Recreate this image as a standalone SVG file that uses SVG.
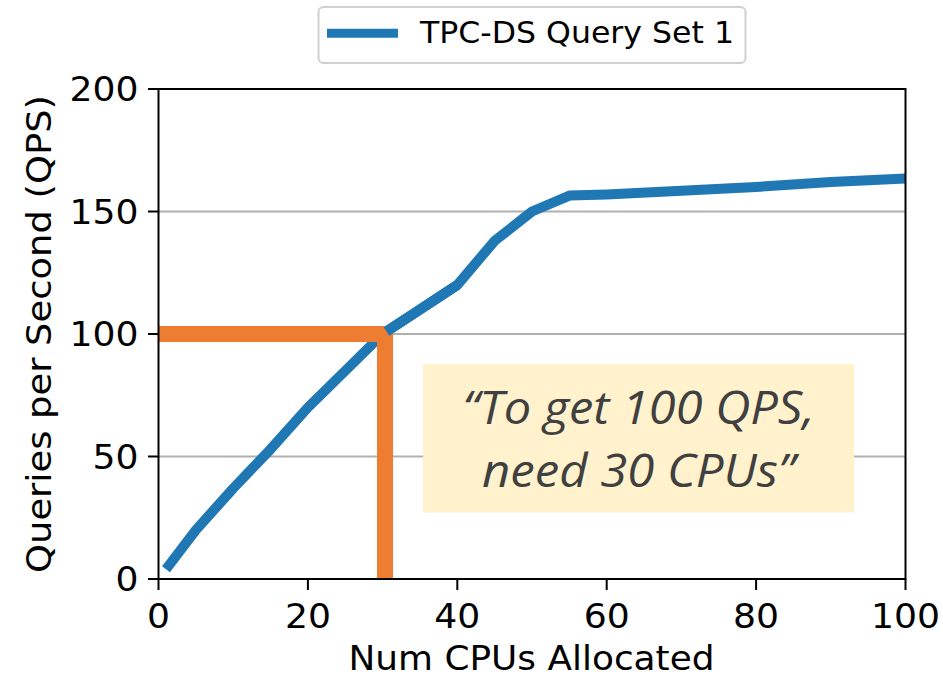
<svg xmlns="http://www.w3.org/2000/svg" width="943" height="678" viewBox="0 0 943 678">
  <style>
    .grid { stroke: #b0b0b0; stroke-width: 2; fill: none; }
    .spine { stroke: #000000; stroke-width: 2; fill: none; }
    .tick { stroke: #000000; stroke-width: 2; }
    .lbl { font-family: "DejaVu Sans", sans-serif; font-size: 34px; fill: #000000; }
    .ytl { text-anchor: end; }
    .xtl { text-anchor: middle; }
    .series { fill: none; stroke: #1f77b4; stroke-width: 10; stroke-linejoin: round; }
    .mark { fill: none; stroke: #ed7d31; stroke-width: 16; stroke-linejoin: miter; }
    .note { font-family: "Open Sans", "Noto Sans", sans-serif; font-style: italic; font-size: 46px; fill: #404040; text-anchor: middle; }
  </style>

  <rect width="943" height="678" fill="#ffffff"/>

  <!-- horizontal grid -->
  <g id="grid">
    <line class="grid" x1="158.5" y1="211.5" x2="905.5" y2="211.5"/>
    <line class="grid" x1="158.5" y1="334" x2="905.5" y2="334"/>
    <line class="grid" x1="158.5" y1="456.5" x2="905.5" y2="456.5"/>
  </g>

  <g id="connectors">
    <!-- QPS curve (lower part, beneath the marker) -->
    <polyline class="series" points="166,569.2 195.9,530 233.2,488.4 270.6,449.2 307.9,407.5 345.3,370.8 382.6,334 420,309.5 457.3,285"/>
    <!-- 100 QPS / 30 CPU marker -->
    <path class="mark" d="M158.5,334 H385 V579"/>
    <!-- QPS curve (upper part, over the marker) -->
    <polyline class="series" points="386.5,331.5 420,309.5 457.3,285 494.6,240.9 532,211.5 569.4,195.6 606.7,194.4 681.4,190.7 756.1,187 830.8,182.1 905.5,178.4"/>
  </g>

  <!-- callout -->
  <g id="callout">
    <rect x="423" y="364" width="431" height="148.5" fill="#fff2cc"/>
    <text class="note" x="638.5" y="424" textLength="352" lengthAdjust="spacingAndGlyphs">“To get 100 QPS,</text>
    <text class="note" x="638.5" y="486.5" textLength="313" lengthAdjust="spacingAndGlyphs">need 30 CPUs”</text>
  </g>

  <!-- axes frame -->
  <g id="axes">
    <rect class="spine" x="158.5" y="89" width="747" height="490"/>
    <!-- y ticks -->
    <line class="tick" x1="148" y1="89" x2="158.5" y2="89"/>
    <line class="tick" x1="148" y1="211.5" x2="158.5" y2="211.5"/>
    <line class="tick" x1="148" y1="334" x2="158.5" y2="334"/>
    <line class="tick" x1="148" y1="456.5" x2="158.5" y2="456.5"/>
    <line class="tick" x1="148" y1="579" x2="158.5" y2="579"/>
    <!-- x ticks -->
    <line class="tick" x1="158.5" y1="579" x2="158.5" y2="590"/>
    <line class="tick" x1="307.9" y1="579" x2="307.9" y2="590"/>
    <line class="tick" x1="457.3" y1="579" x2="457.3" y2="590"/>
    <line class="tick" x1="606.7" y1="579" x2="606.7" y2="590"/>
    <line class="tick" x1="756.1" y1="579" x2="756.1" y2="590"/>
    <line class="tick" x1="905.5" y1="579" x2="905.5" y2="590"/>
  </g>

  <g id="y-tick-labels">
    <text class="lbl ytl" x="138.5" y="101.4" textLength="69" lengthAdjust="spacingAndGlyphs">200</text>
    <text class="lbl ytl" x="138.5" y="223.9" textLength="69" lengthAdjust="spacingAndGlyphs">150</text>
    <text class="lbl ytl" x="138.5" y="346.4" textLength="69" lengthAdjust="spacingAndGlyphs">100</text>
    <text class="lbl ytl" x="138.5" y="468.9" textLength="46" lengthAdjust="spacingAndGlyphs">50</text>
    <text class="lbl ytl" x="138.5" y="591.4" textLength="23" lengthAdjust="spacingAndGlyphs">0</text>
  </g>

  <g id="x-tick-labels">
    <text class="lbl xtl" x="158.5" y="628" textLength="23" lengthAdjust="spacingAndGlyphs">0</text>
    <text class="lbl xtl" x="307.9" y="628" textLength="46" lengthAdjust="spacingAndGlyphs">20</text>
    <text class="lbl xtl" x="457.3" y="628" textLength="46" lengthAdjust="spacingAndGlyphs">40</text>
    <text class="lbl xtl" x="606.7" y="628" textLength="46" lengthAdjust="spacingAndGlyphs">60</text>
    <text class="lbl xtl" x="756.1" y="628" textLength="46" lengthAdjust="spacingAndGlyphs">80</text>
    <text class="lbl xtl" x="905.5" y="628" textLength="69" lengthAdjust="spacingAndGlyphs">100</text>
  </g>

  <g id="axis-titles">
    <text class="lbl xtl" x="531.5" y="670" textLength="366" lengthAdjust="spacingAndGlyphs">Num CPUs Allocated</text>
    <text class="lbl xtl" transform="translate(51,334) rotate(-90)" x="0" y="0" textLength="478" lengthAdjust="spacingAndGlyphs">Queries per Second (QPS)</text>
  </g>

  <g id="legend">
    <rect x="318.5" y="7" width="427" height="56" rx="5" ry="5" fill="#ffffff" stroke="#d0d0d0" stroke-width="2"/>
    <line x1="327" y1="33.3" x2="398" y2="33.3" stroke="#1f77b4" stroke-width="9"/>
    <text class="lbl" style="font-size:30.5px" x="420" y="43.3" textLength="314" lengthAdjust="spacingAndGlyphs">TPC-DS Query Set 1</text>
  </g>
</svg>
